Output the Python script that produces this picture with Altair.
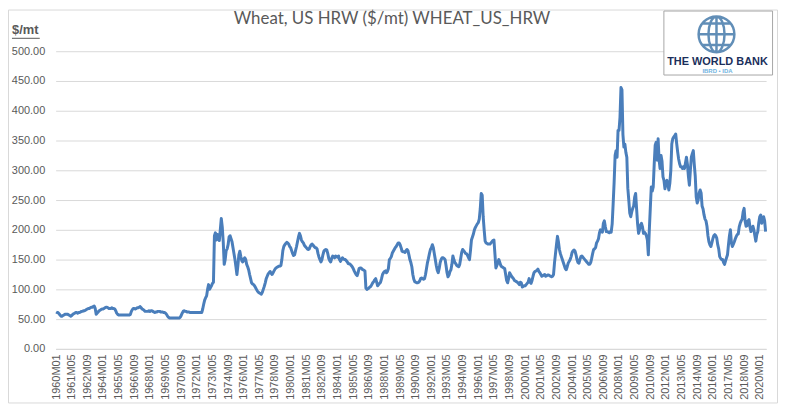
import altair as alt
import pandas as pd

# Monthly prices ($/mt)
w1960s = [
    62, 61, 61, 59, 57, 55, 55, 56, 57, 58, 58, 58,
    58, 57, 56, 55, 56, 58, 59, 60, 61, 61, 60, 61,
    61, 62, 63, 63, 64, 64, 65, 66, 67, 68, 68, 69,
    70, 70, 71, 72, 68, 58, 60, 62, 64, 65, 66, 67,
    67, 68, 69, 70, 70, 69, 68, 68, 68, 69, 68, 68,
    67, 64, 60, 58, 57, 57, 57, 57, 57, 57, 57, 57,
    57, 57, 57, 57, 58, 63, 66, 68, 68, 67, 68, 69,
    69, 70, 71, 69, 67, 66, 65, 63, 63, 63, 63, 64,
    63, 64, 64, 63, 62, 61, 62, 62, 63, 63, 63, 62,
    62, 62, 61, 61, 60, 58, 55, 53, 52, 52, 52, 52,
]
w1970s = [
    52, 52, 52, 52, 52, 52, 52, 53, 56, 60, 63, 64,
    63, 63, 62, 62, 62, 61, 61, 61, 61, 61, 61, 61,
    61, 61, 61, 61, 61, 61, 67, 75, 82, 86, 89, 100,
    108, 100, 103, 106, 110, 112, 190, 195, 183, 192, 185, 182,
    200, 219, 205, 180, 142, 150, 165, 168, 175, 188, 190, 185,
    180, 170, 160, 150, 138, 125, 140, 158, 164, 155, 148, 146,
    150, 153, 150, 142, 138, 133, 125, 118, 111, 109, 108, 106,
    103, 100, 97, 95, 94, 93, 92, 95, 100, 105, 111, 118,
    122, 126, 128, 130, 127, 125, 128, 131, 134, 136, 137, 138,
    139, 139, 140, 150, 165, 172, 175, 177, 179, 178, 176, 172,
]
w1980s = [
    170, 165, 160, 157, 158, 165, 172, 180, 188, 194, 190, 183,
    180, 178, 174, 172, 170, 168, 167, 168, 172, 175, 176, 174,
    172, 170, 170, 168, 160, 154, 150, 146, 150, 158, 164, 166,
    167, 166, 160, 152, 148, 146, 152, 156, 155, 153, 156, 155,
    154, 156, 150, 147, 150, 153, 151, 150, 150, 148, 146, 143,
    143, 142, 140, 138, 135, 131, 128, 125, 123, 128, 135, 136,
    136, 134, 133, 132, 131, 102, 100, 101, 102, 104, 105, 108,
    111, 113, 116, 118, 112, 106, 108, 110, 112, 118, 125, 128,
    130, 131, 128, 130, 135, 150, 152, 155, 161, 164, 167, 170,
    172, 175, 178, 178, 175, 170, 164, 163, 163, 162, 165, 167,
]
w1990s = [
    165, 158, 150, 145, 138, 125, 117, 113, 112, 111, 111, 112,
    114, 118, 119, 118, 117, 118, 125, 135, 145, 152, 160, 167,
    170, 175, 170, 160, 150, 140, 132, 128, 135, 145, 150, 153,
    153, 152, 150, 140, 128, 121, 124, 130, 133, 142, 156, 150,
    145, 143, 140, 139, 138, 142, 152, 162, 167, 165, 163, 160,
    160, 157, 153, 150, 165, 183, 188, 193, 200, 204, 207, 210,
    212, 218, 235, 261, 258, 222, 200, 181, 178, 177, 176, 176,
    176, 178, 180, 182, 183, 160, 136, 140, 145, 150, 145, 140,
    138, 137, 136, 135, 125, 115, 111, 118, 128, 125, 122, 120,
    118, 115, 114, 113, 112, 110, 108, 112, 111, 104, 105, 106,
]
w2000s = [
    106, 108, 110, 112, 118, 112, 110, 115, 122, 128, 130, 131,
    132, 134, 130, 128, 125, 122, 123, 124, 125, 122, 123, 124,
    124, 123, 122, 121, 122, 125, 145, 160, 175, 189, 180, 167,
    160, 155, 150, 145, 140, 135, 133, 138, 144, 147, 150, 155,
    162, 165, 166, 164, 158, 150, 145, 144, 150, 155, 156, 154,
    152, 150, 148, 146, 144, 142, 142, 145, 152, 160, 167, 168,
    170, 178, 181, 185, 195, 200, 198, 196, 211, 215, 205, 197,
    197, 196, 195, 197, 196, 210, 244, 280, 325, 333, 322, 367,
    367, 389, 439, 435, 360, 339, 344, 330, 322, 270, 250, 228,
    222, 230, 236, 240, 255, 261, 235, 210, 194, 200, 208, 211,
]
w2010s = [
    205, 194, 196, 194, 190, 183, 158, 200, 236, 272, 265, 272,
    310, 342, 347, 317, 353, 318, 303, 325, 315, 289, 283, 269,
    280, 283, 275, 267, 278, 300, 344, 353, 356, 358, 361, 345,
    331, 319, 311, 306, 306, 303, 306, 303, 312, 322, 310, 290,
    275, 300, 322, 328, 333, 310, 290, 255, 245, 250, 262, 267,
    262, 240, 235, 225, 218, 215, 206, 190, 180, 175, 172, 178,
    185, 190, 192, 190, 186, 175, 168, 155, 152, 150, 150, 145,
    142, 148, 153, 158, 175, 190, 200, 178, 172, 176, 180, 185,
    189, 192, 193, 205, 211, 215, 218, 230, 236, 215, 206, 207,
    215, 217, 205, 197, 202, 206, 200, 190, 181, 192, 197, 212,
]
w2020s = [222, 225, 211, 217, 222, 215, 197]

values = w1960s + w1970s + w1980s + w1990s + w2000s + w2010s + w2020s
years = list(range(1960, 2021))
months = [f"{y}M{m:02d}" for y in years for m in range(1, 13)][: len(values)]
tick_labels = months[::16]
y_ticks = [0, 50, 100, 150, 200, 250, 300, 350, 400, 450, 500]

title_text = "Wheat, US HRW ($/mt) WHEAT_US_HRW"
unit_text = "$/mt"
logo_text = "THE WORLD BANK"
logo_sub = "IBRD \u2022 IDA"

df = pd.DataFrame({"month": months, "price": values})

W, H = 716, 300
GRAY = "#595959"
GRID = "#d9d9d9"

line = alt.Chart(df).mark_line(color="#4a7ebb", strokeWidth=3, strokeJoin="round").encode(
    x=alt.X(
        "month:O",
        sort=None,
        scale=alt.Scale(type="point", padding=0.5),
        axis=alt.Axis(
            values=tick_labels, labelAngle=-90, title=None, ticks=False,
            domain=True, domainColor=GRID, labelColor=GRAY,
            labelFont="Liberation Sans", labelFontSize=11, labelPadding=5,
            grid=False, labelOverlap=False,
        ),
    ),
    y=alt.Y(
        "price:Q",
        scale=alt.Scale(domain=[0, 500], nice=False),
        axis=alt.Axis(
            values=y_ticks, format=".2f", title=None, ticks=False, domain=False,
            gridColor=GRID, labelColor=GRAY, labelFont="Liberation Sans",
            labelFontSize=11, labelPadding=11,
        ),
    ),
)


def one(d):
    return alt.Chart(alt.Data(values=[d]))


frame = one({"a": 1}).mark_rect(fill="transparent", stroke="#d9d9d9", strokeWidth=1).encode(
    x=alt.value(-47.5), x2=alt.value(727.5), y=alt.value(-41.5), y2=alt.value(354.5)
)

title = one({"t": title_text}).mark_text(
    font="Lato", fontSize=17, color=GRAY, align="center", baseline="middle"
).encode(x=alt.value(339), y=alt.value(-32), text="t:N")

unit = one({"t": unit_text}).mark_text(
    font="Liberation Sans", fontSize=13, fontWeight="bold", color=GRAY, align="left", baseline="middle"
).encode(x=alt.value(-44), y=alt.value(-21), text="t:N")

underline = one({"a": 1}).mark_rule(color=GRAY, strokeWidth=1).encode(
    x=alt.value(-44), x2=alt.value(-16), y=alt.value(-13)
)

logo_box = one({"a": 1}).mark_rect(fill="white", stroke="#a6a6a6", strokeWidth=1).encode(
    x=alt.value(613), x2=alt.value(722.5), y=alt.value(-40.5), y2=alt.value(24)
)

globe_path = (
    "M-1,0A1,1,0,1,1,1,0A1,1,0,1,1,-1,0Z"
    "M0,-1A0.45,1,0,1,1,0,1A0.45,1,0,1,1,0,-1Z"
    "M0,-1L0,1M-1,0L1,0"
    "M-0.8,-0.6L0.8,-0.6M-0.8,0.6L0.8,0.6"
)
globe = one({"a": 1}).mark_point(
    shape=globe_path, filled=False, stroke="#1f5f9a", strokeWidth=2.5, size=1300
).encode(x=alt.value(666), y=alt.value(-17))

logo1 = one({"t": logo_text}).mark_text(
    font="Liberation Sans", fontSize=11, fontWeight="bold", color="#1b2f5b", align="center", baseline="middle"
).encode(x=alt.value(667), y=alt.value(11), text="t:N")

logo2 = one({"t": logo_sub}).mark_text(
    font="Liberation Sans", fontSize=6, fontWeight="bold", color="#6fb3e0", align="center", baseline="middle"
).encode(x=alt.value(667), y=alt.value(20), text="t:N")

chart = alt.layer(frame, line, title, unit, underline, logo_box, globe, logo1, logo2).properties(
    width=W,
    height=H,
    autosize=alt.AutoSizeParams(type="none"),
    padding={"left": 48, "top": 42, "right": 13, "bottom": 55},
).configure_view(stroke=None)

chart.save("out.html", embed_options={"renderer": "svg", "actions": False})
